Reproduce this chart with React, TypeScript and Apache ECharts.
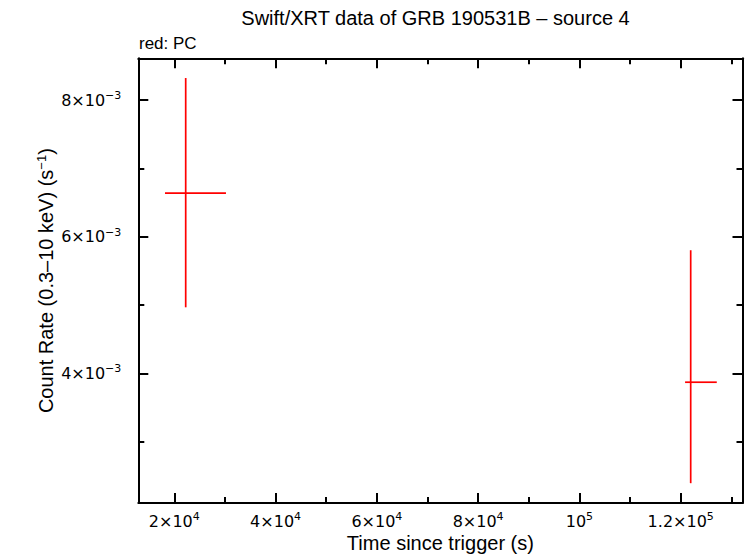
import React, { useEffect, useRef } from "react";
import * as echarts from "echarts";

const titleText = "Swift/XRT data of GRB 190531B \u2013 source 4";
const subtitleText = "red: PC";

const times = [22250, 121970];
const timeLo = [18160, 120860];
const timeHi = [30200, 127120];
const rates = [6.638e-3, 3.87e-3];
const rateLo = [4.967e-3, 2.391e-3];
const rateHi = [8.325e-3, 5.803e-3];

const xRange = [12890, 132200];
const yRange = [2.101e-3, 8.614e-3];

const xTickValues = [20000, 40000, 60000, 80000, 100000, 120000];
const xTickMantissas = ["2\u00d710", "4\u00d710", "6\u00d710", "8\u00d710", "10", "1.2\u00d710"];
const xTickExponents = ["4", "4", "4", "4", "5", "5"];

const yTickValues = [4e-3, 6e-3, 8e-3];
const yTickMantissas = ["4\u00d710", "6\u00d710", "8\u00d710"];
const yTickExponents = ["\u22123", "\u22123", "\u22123"];

const FONT = "'Liberation Sans', Arial, Helvetica, sans-serif";
const TICKFONT = "'DejaVu Sans', 'Liberation Sans', sans-serif";

function makeFormatter(vals: number[], mans: string[], exps: string[]) {
  return (v: number) => {
    for (let i = 0; i < vals.length; i++) {
      if (Math.abs(v - vals[i]) < Math.abs(vals[i]) * 1e-6) {
        return `{m|${mans[i]}}{e|${exps[i]}}`;
      }
    }
    return "";
  };
}

const richLabel = {
  m: { fontSize: 16, fontFamily: TICKFONT, color: "#000", lineHeight: 20 },
  e: { fontSize: 11, fontFamily: TICKFONT, color: "#000", verticalAlign: "top", lineHeight: 12 },
};

export default function App() {
  const ref = useRef<HTMLDivElement>(null);
  useEffect(() => {
    if (!ref.current) return;
    const chart = echarts.init(ref.current, undefined, { renderer: "svg" });
    const data = times.map((t, i) => [t, rates[i], timeLo[i], timeHi[i], rateLo[i], rateHi[i]]);
    const frameLine = { show: true, lineStyle: { color: "#000", width: 2 } };
    const majorTick = { show: true, inside: true, length: 10, lineStyle: { color: "#000", width: 2 } };
    const minorTick = { show: true, splitNumber: 2, length: 6, lineStyle: { color: "#000", width: 2 } };
    chart.setOption({
      animation: false,
      backgroundColor: "#fff",
      title: [
        {
          text: titleText,
          left: 435.5,
          top: 8,
          padding: 0,
          textAlign: "center",
          textStyle: { fontFamily: FONT, fontSize: 20, fontWeight: "normal", color: "#000" },
        },
        {
          text: subtitleText,
          left: 139,
          top: 35,
          padding: 0,
          textStyle: { fontFamily: FONT, fontSize: 17, fontWeight: "normal", color: "#000" },
        },
      ],
      grid: { left: 138.3, top: 58.3, right: 3.5, bottom: 50.3, containLabel: false },
      xAxis: [
        {
          type: "value",
          position: "bottom",
          min: xRange[0],
          max: xRange[1],
          splitNumber: 5,
          axisLine: frameLine,
          axisTick: majorTick,
          minorTick: minorTick,
          splitLine: { show: false },
          axisLabel: {
            margin: 8,
            showMinLabel: false,
            showMaxLabel: false,
            formatter: makeFormatter(xTickValues, xTickMantissas, xTickExponents),
            rich: richLabel,
          },
          name: "Time since trigger (s)",
          nameLocation: "middle",
          nameGap: 30,
          nameMoveOverlap: false,
          nameTextStyle: { fontFamily: FONT, fontSize: 20, color: "#000" },
        },
        {
          type: "value",
          position: "top",
          min: xRange[0],
          max: xRange[1],
          splitNumber: 5,
          axisLine: frameLine,
          axisTick: majorTick,
          minorTick: minorTick,
          splitLine: { show: false },
          axisLabel: { show: false },
        },
      ],
      yAxis: [
        {
          type: "value",
          position: "left",
          min: yRange[0],
          max: yRange[1],
          splitNumber: 3,
          axisLine: frameLine,
          axisTick: majorTick,
          minorTick: minorTick,
          splitLine: { show: false },
          axisLabel: {
            margin: 17,
            showMinLabel: false,
            showMaxLabel: false,
            formatter: makeFormatter(yTickValues, yTickMantissas, yTickExponents),
            rich: richLabel,
          },
          name: "{n|Count Rate (0.3\u201310 keV) (s}{e|\u22121}{n|)}",
          nameLocation: "middle",
          nameGap: 81,
          nameRotate: 90,
          nameMoveOverlap: false,
          nameTextStyle: {
            rich: {
              n: { fontFamily: FONT, fontSize: 20, color: "#000", lineHeight: 22 },
              e: { fontFamily: FONT, fontSize: 13, color: "#000", verticalAlign: "top", lineHeight: 13 },
            },
          },
        },
        {
          type: "value",
          position: "right",
          min: yRange[0],
          max: yRange[1],
          splitNumber: 3,
          axisLine: frameLine,
          axisTick: majorTick,
          minorTick: minorTick,
          splitLine: { show: false },
          axisLabel: { show: false },
        },
      ],
      series: [
        {
          type: "custom",
          xAxisIndex: 0,
          yAxisIndex: 0,
          data,
          encode: { x: 0, y: 1 },
          renderItem: (params: any, api: any) => {
            const x = api.value(0);
            const y = api.value(1);
            const l = api.coord([api.value(2), y]);
            const r = api.coord([api.value(3), y]);
            const b = api.coord([x, api.value(4)]);
            const t = api.coord([x, api.value(5)]);
            const style = { stroke: "#ff0000", lineWidth: 1.7 };
            return {
              type: "group",
              children: [
                { type: "line", shape: { x1: l[0], y1: l[1], x2: r[0], y2: r[1] }, style },
                { type: "line", shape: { x1: t[0], y1: t[1], x2: b[0], y2: b[1] }, style },
              ],
            };
          },
        },
      ],
    });
    return () => chart.dispose();
  }, []);
  return (
    <div
      ref={ref}
      style={{ position: "fixed", left: 0, top: 0, width: 746, height: 558, background: "#fff" }}
    />
  );
}
